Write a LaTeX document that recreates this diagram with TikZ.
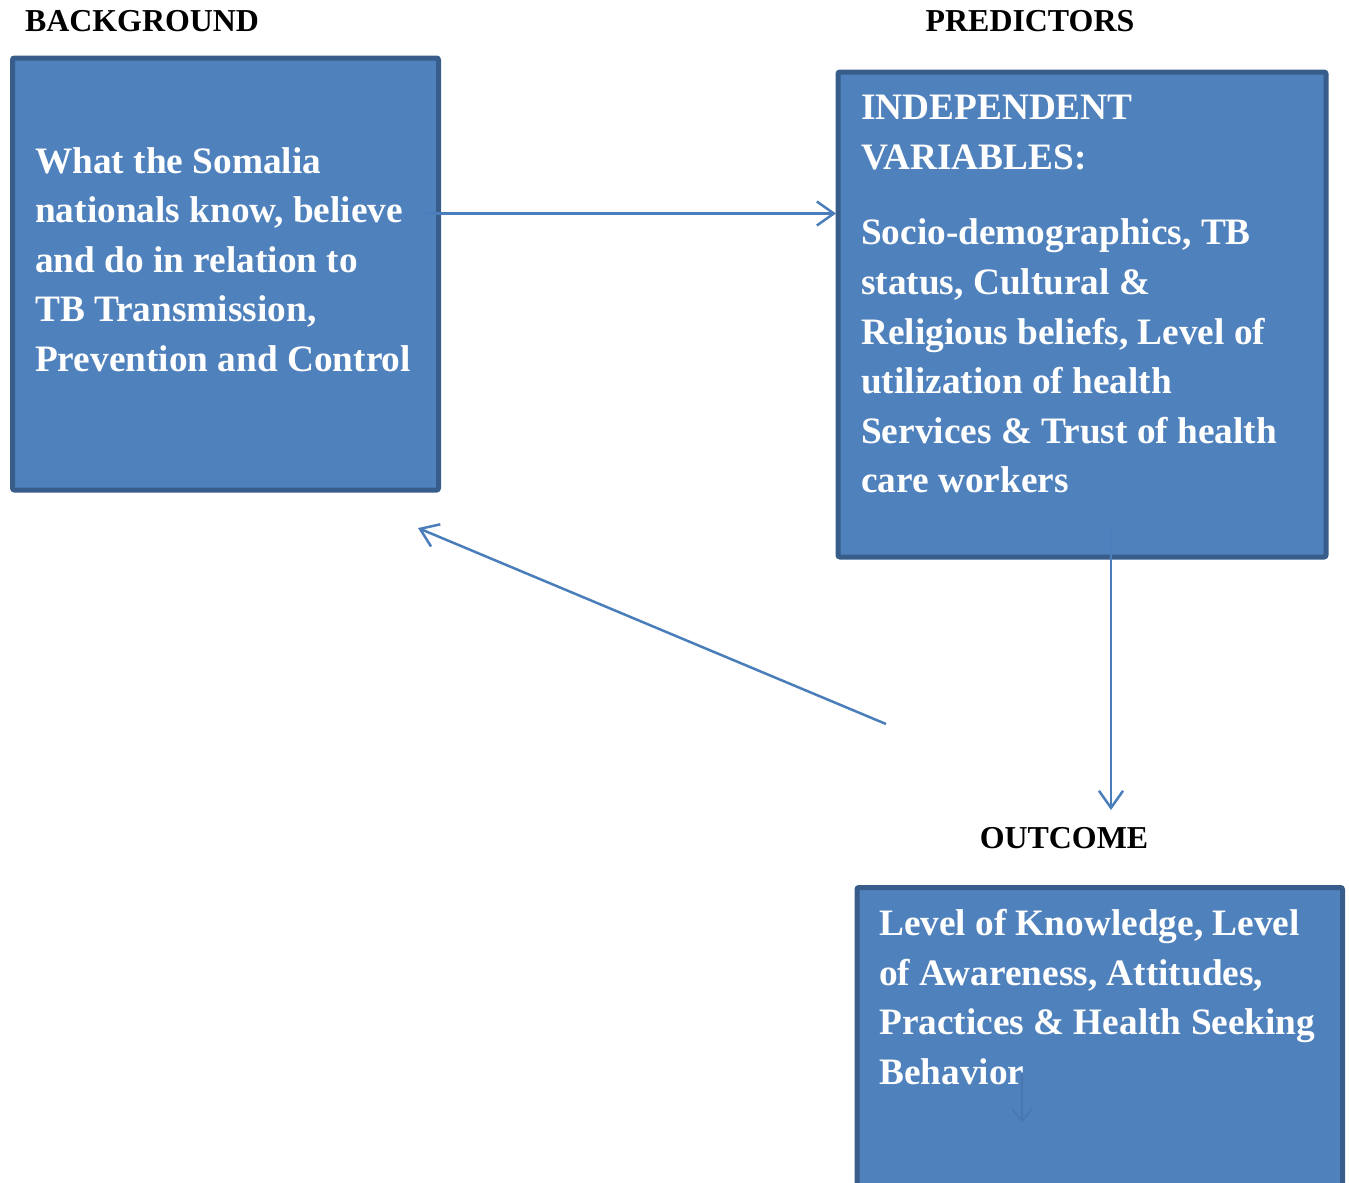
\documentclass[tikz,border=0pt]{standalone}
\usepackage{fontspec}
\setmainfont{Liberation Serif}
\usetikzlibrary{arrows.meta}
\definecolor{boxfill}{HTML}{4F81BD}
\definecolor{boxline}{HTML}{385D8A}
\definecolor{conn}{HTML}{4A7EBB}
\definecolor{faint}{HTML}{4877B0}
\tikzset{
  panel/.style={draw=boxline, fill=boxfill, line width=5pt, rounded corners=2pt, inner sep=0pt},
  boxtext/.style={anchor=north west, inner sep=0pt, align=left, text=white,
    font=\bfseries\fontsize{37.3}{49.6}\selectfont},
  heading/.style={anchor=base, inner sep=0pt, font=\bfseries\fontsize{31.9}{36}\selectfont},
  link/.style={draw=conn, line width=2.5pt, -{Straight Barb[length=17pt,width=24pt]}},
}
\begin{document}
\begin{tikzpicture}[x=1pt,y=-1pt]
\useasboundingbox (0,0) rectangle (1349,1183);
\clip (0,0) rectangle (1349,1183);

% connectors (drawn behind the boxes)
\coordinate (h0) at (425,213.5);
\coordinate (h1) at (836,213.5);
\coordinate (d0) at (886,724);
\coordinate (d1) at (418,528);
\coordinate (v0) at (1111,527);
\coordinate (v1) at (1111,810);
\draw[link] (d0) -- (d1);

% boxes
\node[panel, minimum width=426pt, minimum height=432pt] (bg) at (225.5,274) {};
\node[panel, minimum width=488pt, minimum height=485pt] (pred) at (1082,314.5) {};
\node[panel, minimum width=485.5pt, minimum height=322.5pt] (out) at (1099.75,1048.75) {};

\draw[link] (h0) -- (h1);
\draw[conn!60!boxfill, line width=2pt] (v0) -- (v0 |- pred.south);
\draw[link] (v0 |- pred.south) -- (v1);

% faint arrow inside outcome box
\coordinate (f0) at (1022,1074);
\coordinate (f1) at (1022,1122);
\draw[draw=faint, line width=1.5pt, -{Straight Barb[length=12pt,width=20pt]}] (f0) -- (f1);

% headings
\node[heading] (hbg) at (142,31.5) {BACKGROUND};
\node[heading] (hpred) at (1030,31.5) {PREDICTORS};
\node[heading] (hout) at (1064,848.5) {OUTCOME};

% box texts
\node[boxtext] (tbg) at (35,147) {What the Somalia\\nationals know, believe\\and do in relation to\\TB Transmission,\\Prevention and Control};
\node[boxtext] (tpred) at (861,95) {INDEPENDENT\\VARIABLES:\\[26pt]Socio-demographics, TB\\status, Cultural \&\\Religious beliefs, Level of\\utilization of health\\Services \& Trust of health\\care workers};
\node[boxtext] (tout) at (879,909) {Level of Knowledge, Level\\of Awareness, Attitudes,\\Practices \& Health Seeking\\Behavior};
\end{tikzpicture}
\end{document}
